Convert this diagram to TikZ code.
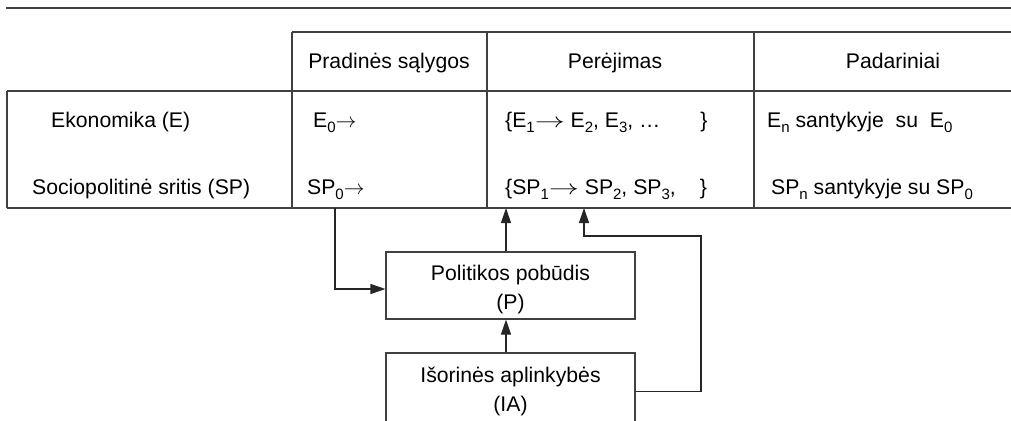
\documentclass[tikz,border=0pt]{standalone}
\usepackage{fontspec}
\setmainfont{Liberation Sans}
\usetikzlibrary{arrows.meta}
\newcommand{\shortarr}{$\rightarrow$}
\newcommand{\longarr}{\scalebox{1.45}[1]{$\rightarrow$}}
\newcommand{\sbs}[1]{\raisebox{-5.5pt}{\fontsize{15}{15}\selectfont #1}}
\begin{document}
\begin{tikzpicture}[x=1pt,y=-1pt,
  tline/.style={draw=black!75, line width=1.1pt},
  conn/.style={draw=black!85, line width=1.1pt, -{Triangle[length=15pt,width=10pt]}},
  txt/.style={font=\fontsize{21.2}{29}\selectfont, inner sep=0pt},
  boxnode/.style={draw=black!75, line width=1.1pt, minimum width=249pt, inner sep=0pt}]
\useasboundingbox (0,0) rectangle (1011,420);
% table rules
\draw[tline] (6,8) -- (1011,8);
\draw[tline] (292,32) -- (1011,32);
\draw[tline] (7,91) -- (1011,91);
\draw[tline] (7,208) -- (1011,208);
\draw[tline] (7,91) -- (7,208);
\draw[tline] (292,32) -- (292,208);
\draw[tline] (487,32) -- (487,208);
\draw[tline] (754,32) -- (754,208);
% headers
\node[txt, anchor=base] (h1) at (389,68) {Pradinės sąlygos};
\node[txt, anchor=base] (h2) at (615,68) {Perėjimas};
\node[txt, anchor=base] (h3) at (893,68) {Padariniai};
% row labels
\node[txt, anchor=base west] (r1) at (51,127) {Ekonomika (E)};
\node[txt, anchor=base west] (r2) at (32,194) {Sociopolitinė sritis (SP)};
% cells
\node[txt, anchor=base west] (c11) at (313,127) {E\sbs{0}\shortarr};
\node[txt, anchor=base west] (c21) at (307,194) {SP\sbs{0}\shortarr};
\node[txt, anchor=base west] (c12) at (505,127) {\{E\sbs{1}\longarr{} E\sbs{2}, E\sbs{3}, …\hspace{40pt}\}};
\node[txt, anchor=base west] (c22) at (505,194) {\{SP\sbs{1}\longarr{} SP\sbs{2}, SP\sbs{3},\hspace{24pt}\}};
\node[txt, anchor=base west] (c13) at (767,127) {E\sbs{n} santykyje\ \ su\ \ E\sbs{0}};
\node[txt, anchor=base west] (c23) at (771,194) {SP\sbs{n} santykyje su SP\sbs{0}};
% boxes
\node[boxnode, minimum height=67pt] (P) at (510.5,285.5) {};
\node[txt, align=center] (Ptxt) at (510.5,290) {Politikos pobūdis\\(P)};
\node[boxnode, minimum height=77pt] (IA) at (510.5,391.5) {};
\node[txt, align=center] (IAtxt) at (510.5,391.5) {Išorinės aplinkybės\\(IA)};
% connector points on the table's lower rule
\coordinate (t1) at (335,208);
\coordinate (t2) at (506,208);
\coordinate (t3) at (584,208);
\coordinate (k1) at (701,236);
% connectors
\draw[conn] (t1) |- ([yshift=-3.5pt]P.west);
\draw[conn] (P.north -| t2) -- (t2);
\draw[conn] (IA.north -| t2) -- (P.south -| t2);
\draw[conn] (IA.east) -| (k1) -| (t3);
\end{tikzpicture}
\end{document}
